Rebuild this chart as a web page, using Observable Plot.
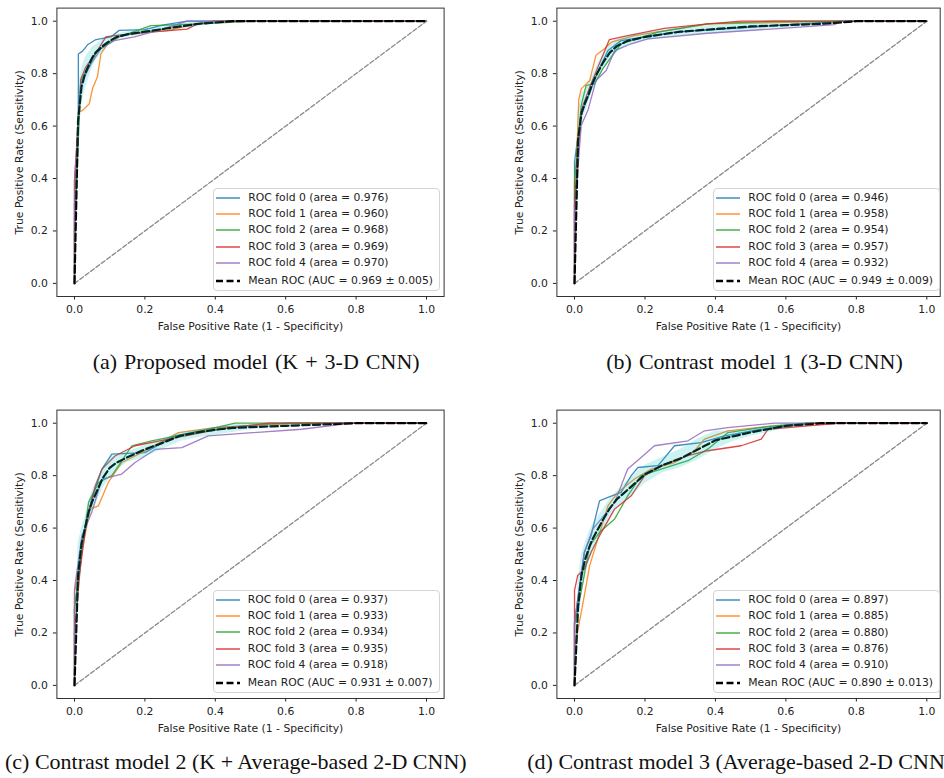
<!DOCTYPE html>
<html><head><meta charset="utf-8">
<script src="https://cdn.jsdelivr.net/npm/d3@7"></script>
<script src="https://cdn.jsdelivr.net/npm/@observablehq/plot@0.6"></script>
<style>
body{margin:0;background:#fff;}
#root{position:relative;width:944px;height:778px;overflow:hidden;background:#fff;}
.panel{position:absolute;height:340px;}
.legend{position:absolute;left:213.3px;top:187.5px;width:225px;height:101.5px;border:1px solid #d4d4d4;border-radius:4px;background:rgba(255,255,255,0.85);font-family:"DejaVu Sans";font-size:10.8px;color:#222;}
.legend .row{position:absolute;left:0;height:14px;line-height:14px;white-space:nowrap;}
.legend svg{position:absolute;left:1px;top:0;}
.legend span{position:absolute;left:34px;top:0;}
.caption{position:absolute;font-family:"Liberation Serif","Times New Roman",serif;font-size:22px;line-height:22px;white-space:nowrap;color:#111;}
</style>
</head><body><div id="root"></div>
<script>
// ---------- data ----------
const palette = ["#1f77b4", "#ff7f0e", "#2ca02c", "#d62728", "#9467bd"];
const foldNames = ["ROC fold 0", "ROC fold 1", "ROC fold 2", "ROC fold 3", "ROC fold 4"];
const axisTicks = [0, 0.2, 0.4, 0.6, 0.8, 1.0];
const chance = [0, 1];
const xLabel = "False Positive Rate (1 - Specificity)";
const yLabel = "True Positive Rate (Sensitivity)";
const meanFpr = [0, 0.0101, 0.02, 0.03, 0.04, 0.05, 0.06, 0.08, 0.1, 0.12, 0.15, 0.2, 0.25, 0.3, 0.35, 0.4, 0.45, 0.5, 0.6, 0.7, 0.8, 1.0];

// (a) Proposed model
const captionA = "(a) Proposed model (K + 3-D CNN)";
const aucA = ["0.976", "0.960", "0.968", "0.969", "0.970"];
const meanAucA = "0.969 ± 0.005";
const foldsA = [
  [[0,0],[0,0.3],[0.011,0.62],[0.011,0.875],[0.023,0.886],[0.037,0.91],[0.061,0.93],[0.103,0.94],[0.127,0.965],[0.2,0.968],[0.25,0.985],[0.32,1],[1,1]],
  [[0,0],[0,0.25],[0.011,0.653],[0.023,0.66],[0.042,0.685],[0.051,0.742],[0.065,0.787],[0.075,0.875],[0.094,0.914],[0.117,0.94],[0.188,0.958],[0.264,0.964],[0.33,0.985],[0.396,1],[1,1]],
  [[0,0],[0,0.2],[0.018,0.774],[0.042,0.83],[0.065,0.888],[0.103,0.92],[0.127,0.94],[0.217,0.983],[0.359,0.99],[0.51,1],[1,1]],
  [[0,0],[0,0.39],[0.018,0.78],[0.032,0.825],[0.065,0.888],[0.089,0.94],[0.113,0.945],[0.217,0.958],[0.32,0.97],[0.349,0.99],[0.396,1],[1,1]],
  [[0,0],[0,0.39],[0.018,0.76],[0.047,0.837],[0.075,0.895],[0.113,0.926],[0.17,0.94],[0.236,0.964],[0.32,1],[1,1]]
];
const meanA = [0, 0.62, 0.75, 0.80, 0.83, 0.86, 0.88, 0.905, 0.925, 0.94, 0.95, 0.96, 0.97, 0.98, 0.99, 0.995, 1, 1, 1, 1, 1, 1];
const loA   = [0, 0.50, 0.68, 0.74, 0.78, 0.82, 0.85, 0.88, 0.91, 0.93, 0.94, 0.95, 0.96, 0.97, 0.98, 0.99, 1, 1, 1, 1, 1, 1];
const hiA   = [0, 0.74, 0.82, 0.86, 0.88, 0.90, 0.91, 0.93, 0.94, 0.95, 0.96, 0.97, 0.98, 0.99, 1, 1, 1, 1, 1, 1, 1, 1];

// (b) Contrast model 1
const captionB = "(b) Contrast model 1 (3-D CNN)";
const aucB = ["0.946", "0.958", "0.954", "0.957", "0.932"];
const meanAucB = "0.949 ± 0.009";
const foldsB = [
  [[0,0],[0,0.463],[0.017,0.634],[0.038,0.71],[0.066,0.806],[0.095,0.888],[0.132,0.926],[0.284,0.958],[0.473,0.975],[0.757,1],[1,1]],
  [[0,0],[0,0.26],[0.012,0.70],[0.019,0.742],[0.043,0.774],[0.061,0.87],[0.085,0.895],[0.104,0.92],[0.17,0.945],[0.378,0.99],[0.757,1],[1,1]],
  [[0,0],[0,0.386],[0.019,0.678],[0.033,0.755],[0.057,0.761],[0.08,0.818],[0.104,0.863],[0.132,0.914],[0.237,0.958],[0.378,0.99],[0.568,1],[1,1]],
  [[0,0],[0,0.30],[0.019,0.66],[0.043,0.748],[0.076,0.856],[0.099,0.93],[0.151,0.945],[0.255,0.973],[0.378,0.99],[0.473,1],[1,1]],
  [[0,0],[0,0.27],[0.019,0.602],[0.038,0.66],[0.061,0.774],[0.09,0.812],[0.114,0.888],[0.161,0.914],[0.208,0.933],[0.378,0.954],[0.568,0.971],[0.738,0.987],[0.757,1],[1,1]]
];
const meanB = [0, 0.55, 0.65, 0.69, 0.72, 0.76, 0.79, 0.84, 0.88, 0.905, 0.925, 0.94, 0.95, 0.96, 0.965, 0.97, 0.975, 0.98, 0.985, 0.99, 1, 1];
const loB   = [0, 0.45, 0.60, 0.65, 0.69, 0.73, 0.76, 0.81, 0.85, 0.88, 0.905, 0.925, 0.935, 0.945, 0.95, 0.955, 0.96, 0.965, 0.975, 0.985, 1, 1];
const hiB   = [0, 0.65, 0.72, 0.74, 0.76, 0.79, 0.82, 0.87, 0.91, 0.93, 0.945, 0.955, 0.965, 0.975, 0.98, 0.985, 0.99, 0.995, 0.995, 1, 1, 1];

// (c) Contrast model 2
const captionC = "(c) Contrast model 2 (K + Average-based 2-D CNN)";
const aucC = ["0.937", "0.933", "0.934", "0.935", "0.918"];
const meanAucC = "0.931 ± 0.007";
const foldsC = [
  [[0,0],[0,0.3],[0.016,0.443],[0.026,0.583],[0.049,0.71],[0.078,0.825],[0.106,0.882],[0.2,0.888],[0.286,0.952],[0.4,0.983],[0.607,1],[1,1]],
  [[0,0],[0,0.355],[0.026,0.545],[0.044,0.672],[0.068,0.685],[0.096,0.774],[0.134,0.85],[0.191,0.888],[0.295,0.964],[0.4,0.983],[0.645,1],[1,1]],
  [[0,0],[0,0.29],[0.021,0.52],[0.04,0.698],[0.068,0.774],[0.106,0.8],[0.163,0.914],[0.219,0.933],[0.361,0.971],[0.456,1],[1,1]],
  [[0,0],[0,0.2],[0.016,0.443],[0.035,0.634],[0.059,0.761],[0.078,0.825],[0.115,0.875],[0.172,0.914],[0.267,0.939],[0.409,0.977],[0.55,1],[1,1]],
  [[0,0],[0,0.367],[0.021,0.57],[0.049,0.66],[0.078,0.787],[0.134,0.806],[0.172,0.85],[0.229,0.9],[0.305,0.907],[0.38,0.952],[0.645,0.977],[0.787,1],[1,1]]
];
const meanC = [0, 0.42, 0.54, 0.60, 0.66, 0.70, 0.73, 0.79, 0.83, 0.85, 0.87, 0.90, 0.925, 0.952, 0.965, 0.975, 0.982, 0.985, 0.99, 0.995, 1, 1];
const loC   = [0, 0.30, 0.48, 0.56, 0.62, 0.66, 0.69, 0.75, 0.79, 0.82, 0.85, 0.87, 0.90, 0.93, 0.945, 0.955, 0.965, 0.975, 0.985, 0.99, 1, 1];
const hiC   = [0, 0.54, 0.60, 0.64, 0.70, 0.74, 0.77, 0.83, 0.87, 0.88, 0.89, 0.915, 0.94, 0.965, 0.975, 0.985, 0.995, 0.995, 1, 1, 1, 1];

// (d) Contrast model 3
const captionD = "(d) Contrast model 3 (Average-based 2-D CNN)";
const aucD = ["0.897", "0.885", "0.880", "0.876", "0.910"];
const meanAucD = "0.890 ± 0.013";
const foldsD = [
  [[0,0],[0,0.24],[0.028,0.508],[0.047,0.571],[0.071,0.704],[0.095,0.717],[0.132,0.736],[0.161,0.8],[0.18,0.831],[0.237,0.838],[0.284,0.914],[0.359,0.926],[0.426,0.952],[0.53,0.977],[0.662,1],[1,1]],
  [[0,0],[0,0.14],[0.028,0.343],[0.043,0.457],[0.066,0.558],[0.095,0.685],[0.123,0.736],[0.17,0.787],[0.218,0.825],[0.284,0.85],[0.341,0.895],[0.369,0.939],[0.435,0.971],[0.568,0.99],[0.662,1],[1,1]],
  [[0,0],[0,0.23],[0.024,0.393],[0.043,0.533],[0.071,0.584],[0.114,0.635],[0.151,0.723],[0.189,0.8],[0.246,0.825],[0.322,0.857],[0.378,0.901],[0.435,0.964],[0.549,0.987],[0.662,1],[1,1]],
  [[0,0],[0,0.362],[0.009,0.419],[0.028,0.444],[0.047,0.508],[0.071,0.571],[0.114,0.673],[0.161,0.723],[0.199,0.8],[0.246,0.838],[0.322,0.876],[0.378,0.895],[0.473,0.914],[0.53,0.939],[0.549,0.977],[0.662,0.99],[0.757,1],[1,1]],
  [[0,0],[0,0.24],[0.028,0.508],[0.052,0.597],[0.076,0.635],[0.114,0.698],[0.151,0.825],[0.189,0.869],[0.227,0.914],[0.322,0.933],[0.369,0.971],[0.435,0.983],[0.568,1],[1,1]]
];
const meanD = [0, 0.30, 0.42, 0.48, 0.52, 0.555, 0.58, 0.63, 0.675, 0.71, 0.745, 0.805, 0.84, 0.865, 0.90, 0.935, 0.95, 0.965, 0.99, 1, 1, 1];
const loD   = [0, 0.20, 0.34, 0.42, 0.46, 0.50, 0.53, 0.59, 0.64, 0.68, 0.71, 0.77, 0.81, 0.83, 0.86, 0.90, 0.93, 0.95, 0.98, 1, 1, 1];
const hiD   = [0, 0.40, 0.50, 0.54, 0.58, 0.61, 0.63, 0.67, 0.71, 0.74, 0.78, 0.84, 0.87, 0.90, 0.94, 0.97, 0.97, 0.98, 1, 1, 1, 1];

// ---------- drawing ----------
const root = document.getElementById("root");

function drawPanel(cfg) {
  const wide = !cfg.right;
  const width = wide ? 472 : 444;
  const wrap = document.createElement("div");
  wrap.className = "panel";
  wrap.style.left = cfg.left + "px";
  wrap.style.top = cfg.top + "px";
  wrap.style.width = width + "px";

  const foldRows = cfg.folds.flatMap((pts, i) => pts.map(([f, t]) => ({fold: foldNames[i], fpr: f, tpr: t})));
  const meanRows = meanFpr.map((f, i) => ({fpr: f, tpr: cfg.mean[i], lo: cfg.lo[i], hi: cfg.hi[i]}));
  const chanceRows = chance.map(v => ({fpr: v, tpr: v}));

  const svg = Plot.plot({
    width, height: 340,
    marginLeft: 56.4, marginRight: wide ? 28.4 : 4.3, marginTop: 7.6, marginBottom: 44,
    style: {fontFamily: "DejaVu Sans", fontSize: "10.8px", color: "#222", background: "transparent", overflow: "visible"},
    x: {domain: [-0.05, wide ? 1.05 : 1.038]},
    y: {domain: [-0.05, 1.05]},
    color: {domain: foldNames, range: palette},
    marks: [
      Plot.line(foldRows, {x: "fpr", y: "tpr", z: "fold", stroke: "fold", strokeWidth: 1.3, strokeOpacity: 0.85}),
      Plot.line(chanceRows, {x: "fpr", y: "tpr", stroke: "#8c8c8c", strokeWidth: 1.3, strokeDasharray: "4.5,2.2"}),
      Plot.line(meanRows, {x: "fpr", y: "tpr", stroke: "#000", strokeWidth: 2.2, strokeDasharray: "7.4,3.2"}),
      Plot.areaY(meanRows, {x: "fpr", y1: "lo", y2: "hi", fill: "#00bfbf", fillOpacity: 0.2}),
      Plot.axisX({ticks: axisTicks, tickFormat: d3.format(".1f"), tickSize: 3.5, tickPadding: 5,
        label: xLabel, labelAnchor: "center", labelOffset: 33, labelArrow: "none"}),
      Plot.axisY({ticks: axisTicks, tickFormat: d3.format(".1f"), tickSize: 3.5, tickPadding: 5.5,
        label: yLabel, labelAnchor: "center", labelOffset: 42, labelArrow: "none"}),
      Plot.frame({stroke: "#333", strokeWidth: 1})
    ]
  });
  wrap.append(svg);

  // legend
  const leg = document.createElement("div");
  leg.className = "legend";
  const entries = foldNames.map((n, i) => ({text: `${n} (area = ${cfg.auc[i]})`, color: palette[i], dash: null, w: 1.5}));
  entries.push({text: `Mean ROC (AUC = ${cfg.meanAuc})`, color: "#000", dash: "7,3.5", w: 2.4});
  const rowTops = [2.2, 18.6, 34.9, 51.4, 67.7, 85.1];
  entries.forEach((e, i) => {
    const row = document.createElement("div");
    row.className = "row";
    row.style.top = rowTops[i] + "px";
    row.innerHTML = `<svg width="26" height="14"><line x1="1" x2="25" y1="7" y2="7" stroke="${e.color}" stroke-width="${e.w}" ${e.dash ? `stroke-dasharray="${e.dash}"` : 'stroke-opacity="0.85"'}/></svg><span>${e.text}</span>`;
    leg.append(row);
  });
  wrap.append(leg);
  root.append(wrap);

  const cap = document.createElement("div");
  cap.className = "caption";
  cap.textContent = cfg.caption;
  cap.style.left = cfg.capLeft + "px";
  cap.style.top = cfg.capTop + "px";
  cap.style.wordSpacing = cfg.ws + "px";
  root.append(cap);
}

drawPanel({left: 0, top: 0, right: false, folds: foldsA, mean: meanA, lo: loA, hi: hiA, auc: aucA, meanAuc: meanAucA, caption: captionA, capLeft: 92.7, capTop: 350.6, ws: 1.5});
drawPanel({left: 500, top: 0, right: true, folds: foldsB, mean: meanB, lo: loB, hi: hiB, auc: aucB, meanAuc: meanAucB, caption: captionB, capLeft: 606.3, capTop: 350.6, ws: 1.5});
drawPanel({left: -0.5, top: 402, right: false, folds: foldsC, mean: meanC, lo: loC, hi: hiC, auc: aucC, meanAuc: meanAucC, caption: captionC, capLeft: 5, capTop: 750.6, ws: 0});
drawPanel({left: 500, top: 402.3, right: true, folds: foldsD, mean: meanD, lo: loD, hi: hiD, auc: aucD, meanAuc: meanAucD, caption: captionD, capLeft: 527.3, capTop: 750.6, ws: 0});
</script>
</body></html>
